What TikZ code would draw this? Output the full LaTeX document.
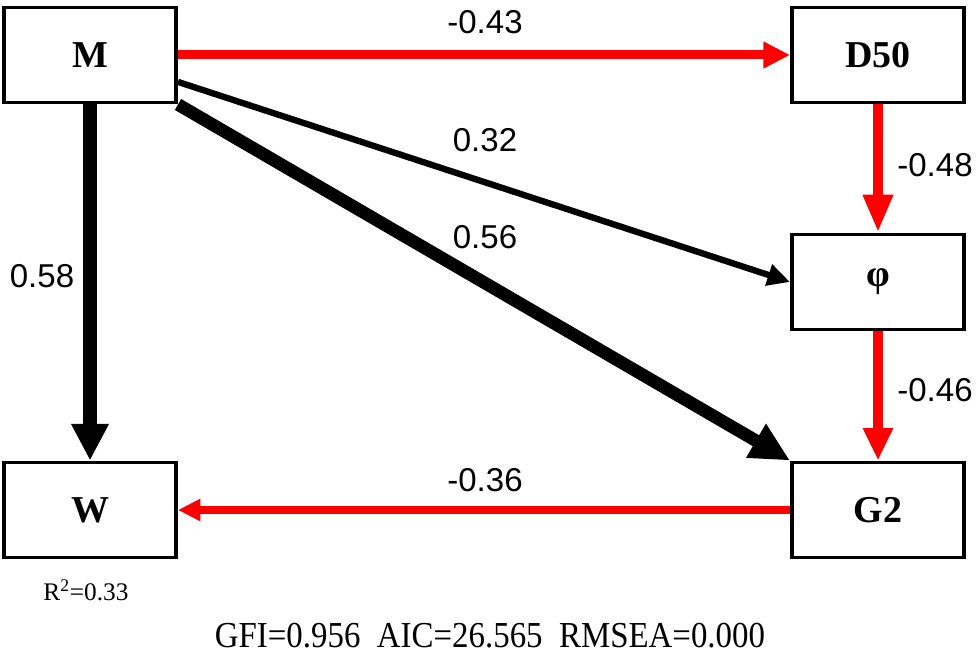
\documentclass[tikz,border=0pt]{standalone}
\usepackage{fontspec}
\setmainfont{Liberation Serif}
\newfontfamily\coeffont{Liberation Sans}
\usetikzlibrary{arrows.meta,positioning}

\begin{document}
\begin{tikzpicture}[x=0.025cm, y=-0.025cm,
  var/.style={draw, line width=2.8pt, minimum width=4.3cm, minimum height=2.375cm,
    inner sep=0pt, font=\fontsize{27}{30}\selectfont\bfseries},
  negpath/.style={red, line width=#1},
  pospath/.style={black, line width=#1},
  coef/.style={font=\coeffont\fontsize{23.5}{26}\selectfont}]
\useasboundingbox (0,0) rectangle (976,656);

% Variables
\node[var] (M) at (90,55) {M};
\node[var] (D50) at (878,55) {D50};
\node[var] (phi) at (878,282) {φ};
\node[var] (W) at (90,510) {W};
\node[var] (G2) at (878,510) {G2};

% Negative paths (red)
\draw[negpath=6.4pt, -{Triangle[length=19pt,width=18pt]}] (M.east) -- (D50.west);
\draw[negpath=7pt, -{Triangle[length=27pt,width=20pt]}] (D50.south) -- (phi.north);
\draw[negpath=7pt, -{Triangle[length=23pt,width=20pt]}] (phi.south) -- (G2.north);
\draw[negpath=5pt, -{Triangle[length=16pt,width=15pt]}] (G2.west) -- (W.east);

% Positive paths (black)
\draw[pospath=9.5pt, -{Triangle[length=26pt,width=25pt]}] (M.south) -- (W.north);
\draw[pospath=4.5pt, -{Triangle[length=16pt,width=15pt]}] (M.-17) -- (phi.west);
\draw[pospath=9pt, -{Triangle[length=28pt,width=26pt]}] (M.south east) -- (G2.north west);

% Path coefficients
\node[coef] (cMD) at (485,22) {-0.43};
\node[coef] (cMphi) at (485,140) {0.32};
\node[coef] (cMG) at (485,237) {0.56};
\node[coef] (cMW) at (42,276) {0.58};
\node[coef] (cDphi) at (935,165) {-0.48};
\node[coef] (cphiG) at (935,390) {-0.46};
\node[coef] (cGW) at (485,480) {-0.36};

% Fit
\node[font=\fontsize{18}{20}\selectfont] (r2) at (86,590) {R\textsuperscript{2}=0.33};
\node[font=\fontsize{26}{28}\selectfont] (fit) at (490,636)
  {\scalebox{0.9}[1]{GFI=0.956\ \ AIC=26.565\ \ RMSEA=0.000}};
\end{tikzpicture}
\end{document}
